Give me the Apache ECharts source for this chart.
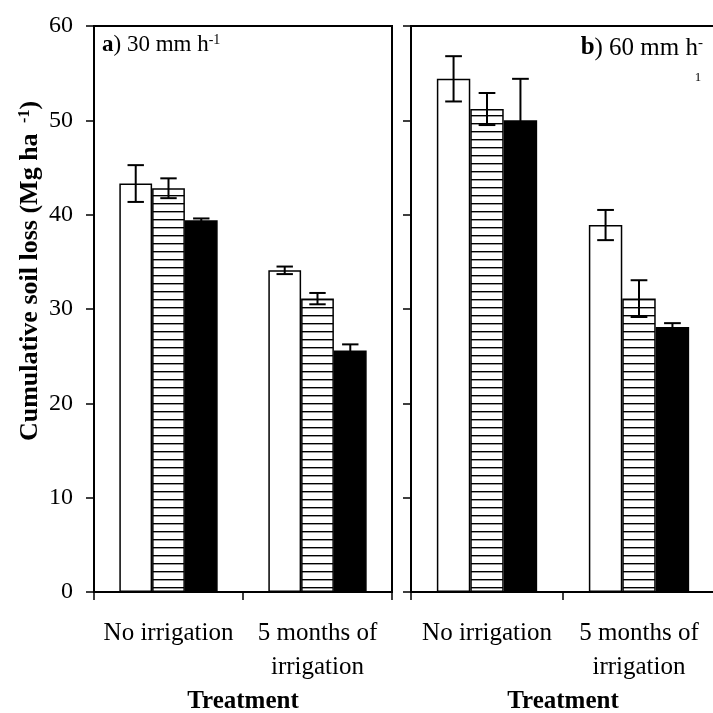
<!DOCTYPE html>
<html>
<head>
<meta charset="utf-8">
<script src="https://cdn.jsdelivr.net/npm/echarts@6/dist/echarts.min.js"></script>
<style>
  html, body { margin: 0; padding: 0; background: #fff; }
  #main { width: 713px; height: 713px; }
</style>
</head>
<body>
<div id="main"></div>
<script>
var categories = ['No irrigation', '5 months of\nirrigation'];
var yTicks = [0, 10, 20, 30, 40, 50, 60];

// a) 30 mm h-1
var aWhite = [43.3, 34.1];
var aWhiteErr = [1.95, 0.4];
var aHatch = [42.8, 31.1];
var aHatchErr = [1.05, 0.6];
var aBlack = [39.4, 25.6];
var aBlackErr = [0.2, 0.65];

// b) 60 mm h-1
var bWhite = [54.4, 38.9];
var bWhiteErr = [2.4, 1.6];
var bHatch = [51.2, 31.1];
var bHatchErr = [1.7, 1.95];
var bBlack = [50.0, 28.1];
var bBlackErr = [4.4, 0.4];

var serif = 'Liberation Serif';

var chart = echarts.init(document.getElementById('main'));

// horizontal line fill
var pat = document.createElement('canvas');
pat.width = 8;
pat.height = 8;
var ctx = pat.getContext('2d');
ctx.fillStyle = '#fff';
ctx.fillRect(0, 0, 8, 8);
ctx.fillStyle = '#000';
ctx.fillRect(0, 3, 8, 1.4);
var hatchFill = { image: pat, repeat: 'repeat' };

var BAR_PCT = 0.22;

function errData(vals, errs, slot) {
    var out = [];
    for (var i = 0; i < vals.length; i++) {
        out.push([i, vals[i], errs[i], slot]);
    }
    return out;
}

function renderErr(params, api) {
    var cat = api.value(0);
    var v = api.value(1);
    var e = api.value(2);
    var slot = api.value(3);
    var bw = api.size([1, 0])[0] * BAR_PCT;
    var c = api.coord([cat, v]);
    var x = c[0] + (slot - 1) * bw;
    var yTop = api.coord([cat, v + e])[1];
    var yBot = api.coord([cat, v - e])[1];
    var hw = bw * 0.25;
    var st = { stroke: '#000', lineWidth: 2 };
    return {
        type: 'group',
        children: [
            { type: 'line', shape: { x1: x, y1: yTop, x2: x, y2: yBot }, style: st },
            { type: 'line', shape: { x1: x - hw, y1: yTop, x2: x + hw, y2: yTop }, style: st },
            { type: 'line', shape: { x1: x - hw, y1: yBot, x2: x + hw, y2: yBot }, style: st }
        ]
    };
}

function xAxisFor(idx) {
    return {
        type: 'category',
        gridIndex: idx,
        data: categories,
        axisLine: { lineStyle: { color: '#000', width: 2 } },
        axisTick: { show: true, length: 8, lineStyle: { color: '#000', width: 1.5 } },
        axisLabel: {
            interval: 0,
            color: '#000',
            fontFamily: serif,
            fontSize: 25,
            lineHeight: 34,
            margin: 24
        },
        name: 'Treatment',
        nameLocation: 'middle',
        nameGap: 97,
        nameTextStyle: { color: '#000', fontFamily: serif, fontSize: 25, fontWeight: 'bold' }
    };
}

function yAxisFor(idx, showLabels) {
    return {
        type: 'value',
        gridIndex: idx,
        min: 0,
        max: 60,
        interval: 10,
        axisLine: { show: true, lineStyle: { color: '#000', width: 2 } },
        axisTick: { show: true, length: 8, lineStyle: { color: '#000', width: 1.5 } },
        splitLine: { show: false },
        axisLabel: {
            show: showLabels,
            color: '#000',
            fontFamily: serif,
            fontSize: 24,
            margin: 21
        }
    };
}

function barSeries(idx, vals, fill) {
    return {
        type: 'bar',
        xAxisIndex: idx,
        yAxisIndex: idx,
        data: vals,
        barWidth: (BAR_PCT * 100) + '%',
        barGap: '0%',
        itemStyle: { color: fill, borderColor: '#000', borderWidth: 1.5 },
        z: 2
    };
}

function errSeries(idx, vals, errs, slot) {
    return {
        type: 'custom',
        xAxisIndex: idx,
        yAxisIndex: idx,
        data: errData(vals, errs, slot),
        encode: { x: 0, y: 1 },
        renderItem: renderErr,
        z: 5
    };
}

var option = {
    animation: false,
    backgroundColor: '#fff',
    grid: [
        { left: 94, top: 26, width: 298, height: 566, outerBoundsMode: 'none', show: true, borderColor: '#000', borderWidth: 2 },
        { left: 411, top: 26, width: 304, height: 566, outerBoundsMode: 'none', show: true, borderColor: '#000', borderWidth: 2 }
    ],
    xAxis: [xAxisFor(0), xAxisFor(1)],
    yAxis: [yAxisFor(0, true), yAxisFor(1, false)],
    graphic: [
        {
            type: 'text',
            x: 30,
            y: 271,
            rotation: Math.PI / 2,
            style: {
                text: '{t|Cumulative soil loss (Mg ha }{s| -1}{t|)}',
                align: 'center',
                verticalAlign: 'middle',
                fill: '#000',
                rich: {
                    t: { fontFamily: serif, fontSize: 26, fontWeight: 'bold', fill: '#000' },
                    s: { fontFamily: serif, fontSize: 16, fontWeight: 'bold', fill: '#000', verticalAlign: 'top' }
                }
            }
        },
        {
            type: 'text',
            x: 102,
            y: 45,
            style: {
                text: '{b|a}{n|) 30 mm h}{s|-1}',
                align: 'left',
                verticalAlign: 'middle',
                rich: {
                    b: { fontFamily: serif, fontSize: 23, fontWeight: 'bold', fill: '#000' },
                    n: { fontFamily: serif, fontSize: 23, fill: '#000' },
                    s: { fontFamily: serif, fontSize: 14, fill: '#000', verticalAlign: 'top' }
                }
            }
        },
        {
            type: 'text',
            x: 703,
            y: 48,
            style: {
                text: '{b|b}{n|) 60 mm h}{s|-}',
                align: 'right',
                verticalAlign: 'middle',
                rich: {
                    b: { fontFamily: serif, fontSize: 25, fontWeight: 'bold', fill: '#000' },
                    n: { fontFamily: serif, fontSize: 25, fill: '#000' },
                    s: { fontFamily: serif, fontSize: 15, fill: '#000', verticalAlign: 'top' }
                }
            }
        },
        {
            type: 'text',
            x: 698,
            y: 78,
            style: {
                text: '1',
                align: 'center',
                verticalAlign: 'middle',
                fontFamily: serif,
                fontSize: 13,
                fill: '#000'
            }
        }
    ],
    series: [
        barSeries(0, aWhite, '#fff'),
        barSeries(0, aHatch, hatchFill),
        barSeries(0, aBlack, '#000'),
        errSeries(0, aWhite, aWhiteErr, 0),
        errSeries(0, aHatch, aHatchErr, 1),
        errSeries(0, aBlack, aBlackErr, 2),
        barSeries(1, bWhite, '#fff'),
        barSeries(1, bHatch, hatchFill),
        barSeries(1, bBlack, '#000'),
        errSeries(1, bWhite, bWhiteErr, 0),
        errSeries(1, bHatch, bHatchErr, 1),
        errSeries(1, bBlack, bBlackErr, 2)
    ]
};

chart.setOption(option);
</script>
</body>
</html>
